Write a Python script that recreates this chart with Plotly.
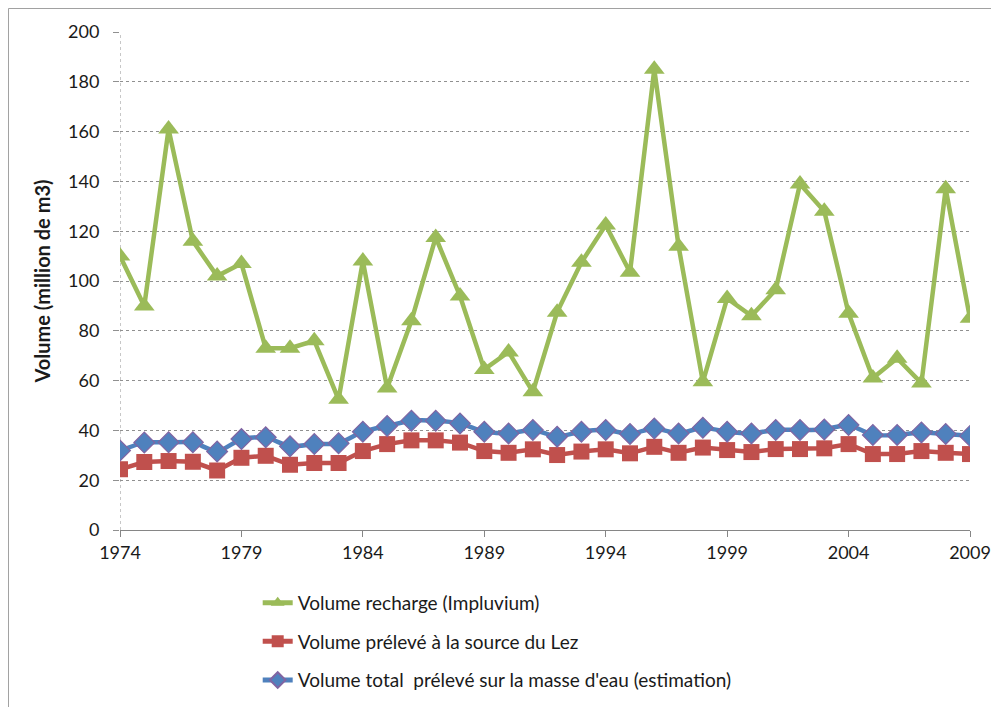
import plotly.graph_objects as go

years = list(range(1974, 2010))
recharge = [110, 90, 161, 116, 102, 107, 73, 73, 76, 52.5, 108, 57, 84, 117.5, 94, 64.5, 71.5, 55.5,
            87.5, 107.5, 122.5, 103.5, 185, 114, 59.5, 93, 86, 96.5, 139, 128, 87, 61, 69, 59, 137, 85]
lez = [24.4, 27.3, 27.7, 27.4, 23.9, 29.0, 29.8, 26.2, 26.9, 26.9, 31.7, 34.5, 36.0, 36.0, 35.1, 31.7, 31.0, 32.4,
       30.1, 31.5, 32.4, 30.8, 33.4, 31.0, 33.1, 32.1, 31.3, 32.5, 32.5, 32.8, 34.5, 30.5, 30.5, 31.7, 31.0, 30.5]
total = [31.9, 35.1, 35.2, 35.2, 31.5, 36.5, 37.2, 33.6, 34.5, 34.8, 39.5, 41.8, 43.9, 43.9, 42.8, 39.5, 38.8, 40.2,
         37.5, 39.5, 40.2, 38.6, 40.8, 38.8, 41.1, 39.5, 38.8, 40.2, 40.2, 40.4, 42.2, 38.2, 38.2, 39.2, 38.6, 37.8]
names = ["Volume recharge (Impluvium)", "Volume prélevé à la source du Lez",
         "Volume total  prélevé sur la masse d'eau (estimation)"]
xticks = list(range(1974, 2010, 5))
yticks = list(range(0, 201, 20))

FONT = "Lato"
fig = go.Figure()
fig.add_trace(go.Scatter(x=years, y=recharge, name=names[0], mode="lines+markers", legendgroup="a",
                         line=dict(color="#9BBB59", width=4.5),
                         marker=dict(symbol="triangle-up", size=18, color="#9BBB59")))
fig.add_trace(go.Scatter(x=years, y=lez, name=names[1], mode="lines+markers", legendgroup="b",
                         line=dict(color="#C0504D", width=4.5),
                         marker=dict(symbol="square", size=16, color="#C0504D")))
fig.add_trace(go.Scatter(x=years, y=total, name=names[2], mode="lines+markers", legendgroup="c",
                         line=dict(color="#4F81BD", width=4.5, shape="spline", smoothing=0.6),
                         marker=dict(symbol="diamond", size=16, color="#4F81BD",
                                     line=dict(color="#8064A2", width=1.2))))

fig.update_layout(
    width=991, height=720,
    margin=dict(l=112, r=29, t=24, b=198),
    plot_bgcolor="white", paper_bgcolor="white",
    font=dict(family=FONT, size=18, color="#1a1a1a"),
    showlegend=True,
    legend=dict(x=0.162, y=-0.108, xanchor="left", yanchor="top", itemsizing="constant",
                tracegroupgap=11, font=dict(family=FONT, size=19), bgcolor="rgba(0,0,0,0)"),
    xaxis=dict(range=[1974, 2009], tickvals=xticks, showgrid=False, showline=True, automargin=False,
               linecolor="#868686", linewidth=1, ticks="outside", ticklen=6, tickcolor="#868686",
               zeroline=False, tickfont=dict(size=18)),
    yaxis=dict(range=[0, 200], tickvals=yticks, showgrid=True, gridcolor="#909090", griddash="dot",
               gridwidth=1, showline=False, ticks="outside", ticklen=6, tickcolor="#909090",
               zeroline=False, tickfont=dict(size=18), ticklabelstandoff=10, automargin=False,
               title=dict(text="<b>Volume (million de m3)</b>", font=dict(size=20), standoff=12)),
    shapes=[
        dict(type="line", xref="x", yref="y", x0=1974, x1=1974, y0=0, y1=200,
             line=dict(color="#909090", width=1, dash="dot"), layer="below"),
        dict(type="rect", xref="paper", yref="paper", x0=-0.1312, x1=1.2, y0=-0.6, y1=1.0472,
             line=dict(color="#A0A0A0", width=1)),
    ],
)
fig.write_html("out.html")
